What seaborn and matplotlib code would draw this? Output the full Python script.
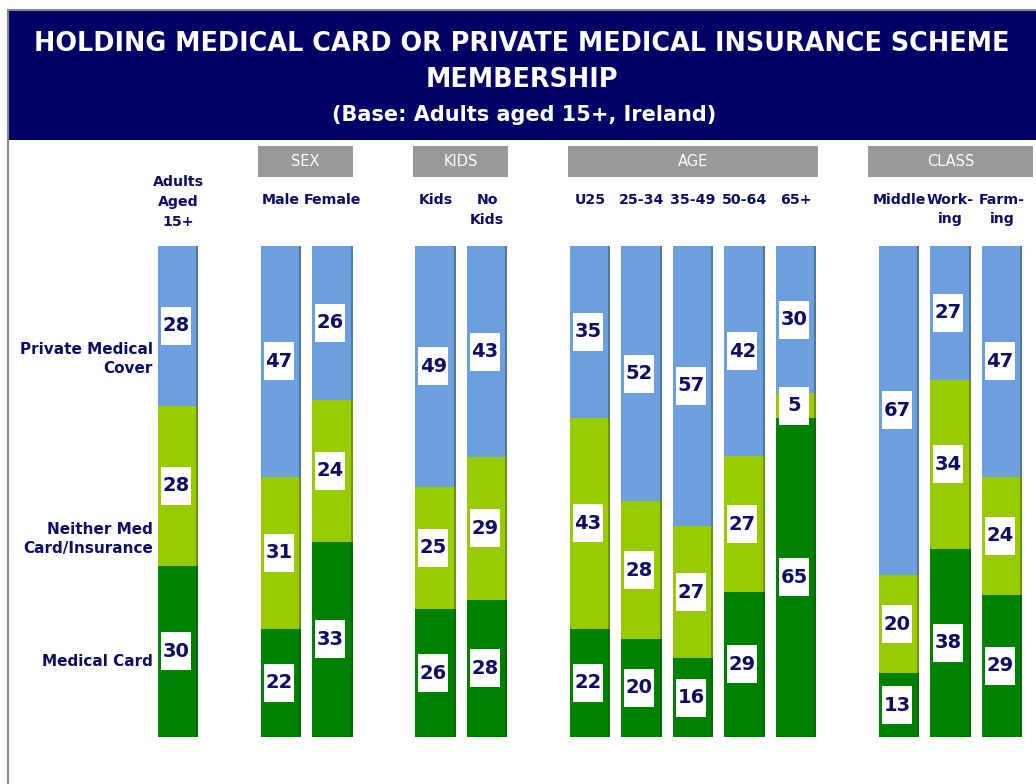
import numpy as np
import pandas as pd
import matplotlib
matplotlib.use('Agg')
import matplotlib.pyplot as plt
from matplotlib.patches import Rectangle
import seaborn as sns

# dados (percentuais)
categorias = ['Adults Aged 15+', 'Male', 'Female', 'Kids', 'No Kids', 'U25', '25-34',
              '35-49', '50-64', '65+', 'Middle', 'Working', 'Farming']
rotulos = ['Adults\nAged\n15+', 'Male', 'Female', 'Kids', 'No\nKids', 'U25', '25-34',
           '35-49', '50-64', '65+', 'Middle', 'Work-\ning', 'Farm-\ning']
posicoes = [0, 2, 3, 5, 6, 8, 9, 10, 11, 12, 14, 15, 16]
medical_card = [30, 22, 33, 26, 28, 22, 20, 16, 29, 65, 13, 38, 29]
neither = [28, 31, 24, 25, 29, 43, 28, 27, 27, 5, 20, 34, 24]
private = [28, 47, 26, 49, 43, 35, 52, 57, 42, 30, 67, 27, 47]
grupos = ['SEX', 'KIDS', 'AGE', 'CLASS']
series = ['Private Medical\nCover', 'Neither Med\nCard/Insurance', 'Medical Card']

# layout das caixas dos grupos (em unidades de coluna)
grupos_inicio = [1.55, 4.56, 7.57, 13.40]
grupos_fim = [3.40, 6.41, 12.43, 16.60]

azul = '#6d9edf'
lima = '#99cc00'
verde = '#008000'
navy = '#0d0d66'

df = pd.DataFrame({'pos': posicoes, 'card': medical_card, 'neither': neither, 'private': private})
total = df['card'] + df['neither'] + df['private']
df['s_card'] = df['card'] / total
df['s_neither'] = df['neither'] / total
df['s_private'] = df['private'] / total
df['c1'] = df['s_card']
df['c2'] = df['s_card'] + df['s_neither']
df['c3'] = df['c2'] + df['s_private']

W, H = 1036, 784
fig = plt.figure(figsize=(W / 100, H / 100), dpi=100)
plt.rcParams['font.family'] = ['DejaVu Sans']

# cabecalho
fig.patches.append(Rectangle((8 / W, 1 - 140 / H), 1 - 8 / W, 130 / H, transform=fig.transFigure,
                             facecolor='#000066', edgecolor='none', zorder=0))
fig.add_artist(plt.Line2D([8 / W, 8 / W], [0, 1 - 10 / H], color='#888888', lw=1.5))
fig.add_artist(plt.Line2D([8 / W, 1], [1 - 10 / H, 1 - 10 / H], color='#888888', lw=1.5))
fig.text(522 / W, 1 - 44 / H, 'HOLDING MEDICAL CARD OR PRIVATE MEDICAL INSURANCE SCHEME',
         ha='center', va='center', color='white', fontsize=18.4, fontweight='bold')
fig.text(522 / W, 1 - 80 / H, 'MEMBERSHIP', ha='center', va='center', color='white',
         fontsize=18.4, fontweight='bold')
fig.text(524 / W, 1 - 115 / H, '(Base: Adults aged 15+, Ireland)', ha='center', va='center',
         color='white', fontsize=15, fontweight='bold')

x0, passo = 178, 51.5
ax = fig.add_axes([0, 1 - 737 / H, 1, 491 / H])

for col, cor in [('c3', azul), ('c2', lima), ('c1', verde)]:
    sns.barplot(data=df, x='pos', y=col, native_scale=True, width=0.78, color=cor,
                saturation=1, edgecolor='none', ax=ax)
ax.set_xlim(-x0 / passo, (W - x0) / passo)
ax.set_ylim(0, 1)
ax.axis('off')

# sombra escura na borda direita das barras
for p in posicoes:
    ax.plot([p + 0.37, p + 0.37], [0, 1], color='#1f3f1f', lw=1.2, alpha=0.45, zorder=3)

# rotulos de valor em caixas brancas
rot = []
for _, r in df.iterrows():
    rot.append((r['pos'], r['s_card'] / 2, r['card']))
    rot.append((r['pos'], r['c1'] + r['s_neither'] / 2, r['neither']))
    rot.append((r['pos'], r['c2'] + r['s_private'] / 2, r['private']))
rot = pd.DataFrame(rot, columns=['x', 'y', 'v'])
caixa = [(-30, -38), (30, -38), (30, 38), (-30, 38)]
ax.scatter(rot['x'] - 0.04, rot['y'], marker=caixa, s=27.5 ** 2, c='white',
           linewidths=0, zorder=4)
for _, r in rot.iterrows():
    ax.text(r['x'] - 0.04, r['y'], f"{int(r['v'])}", ha='center', va='center',
            fontsize=14, fontweight='bold', color=navy, zorder=5)

# rotulos das colunas
for p, t in zip(posicoes, rotulos):
    xf = (x0 + passo * p) / W
    if p == 0:
        fig.text(xf, 1 - 202 / H, t, ha='center', va='center', fontsize=10.2,
                 fontweight='bold', color=navy, linespacing=1.5)
    else:
        fig.text(xf, 1 - 193 / H, t, ha='center', va='top', fontsize=10.2,
                 fontweight='bold', color=navy, linespacing=1.5)

# caixas dos grupos
for g, a, b in zip(grupos, grupos_inicio, grupos_fim):
    xa = (x0 + passo * a) / W
    xb = (x0 + passo * b) / W
    fig.patches.append(Rectangle((xa, 1 - 177 / H), xb - xa, 31 / H, transform=fig.transFigure,
                                 facecolor='#999999', edgecolor='none'))
    fig.text((xa + xb) / 2, 1 - 162 / H, g, ha='center', va='center', color='white', fontsize=10.5)

# rotulos das series
for s, y in zip(series, [359, 539, 662]):
    fig.text(153 / W, 1 - y / H, s, ha='right', va='center', fontsize=11, fontweight='bold',
             color=navy, multialignment='right', linespacing=1.35)

fig.savefig('out.png', dpi=100)
